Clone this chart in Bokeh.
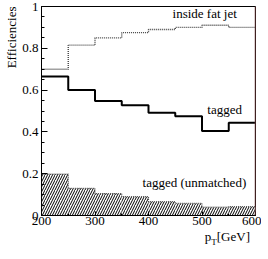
from bokeh.plotting import figure
from bokeh.models import Label, Span, FixedTicker, Title, Div
from bokeh.layouts import column
from bokeh.embed import file_html
from bokeh.resources import INLINE

# bin edges (GeV)
edges = [200, 250, 300, 350, 400, 450, 500, 550, 600]
# efficiencies per bin
inside_fat_jet = [0.70, 0.815, 0.85, 0.875, 0.89, 0.90, 0.91, 0.90]
tagged = [0.665, 0.60, 0.548, 0.528, 0.492, 0.475, 0.404, 0.444]
tagged_unmatched = [0.198, 0.13, 0.105, 0.09, 0.066, 0.058, 0.04, 0.042]

x_ticks = [200, 300, 400, 500, 600]
y_ticks = [0, 0.2, 0.4, 0.6, 0.8, 1]
y_tick_labels = {0: "0", 0.2: "0.2", 0.4: "0.4", 0.6: "0.6", 0.8: "0.8", 1: "1"}

FONT = "Liberation Serif"

p = figure(frame_width=214, frame_height=209, x_range=(200, 600), y_range=(0, 1),
           output_backend="svg", toolbar_location=None,
           min_border_left=32, min_border_right=6, min_border_top=6, min_border_bottom=15)
p.xgrid.visible = False
p.ygrid.visible = False
p.outline_line_color = "black"
p.outline_line_width = 1

# hatched area: tagged (unmatched)
p.quad(left=edges[:-1], right=edges[1:], bottom=0, top=tagged_unmatched,
       fill_color="white", line_color=None, hatch_pattern="/", hatch_color="black",
       hatch_scale=5, hatch_weight=1.0)
p.step(x=edges, y=tagged_unmatched + [tagged_unmatched[-1]], mode="after",
       line_color="#555555", line_width=1.2, line_dash="1 1")

# inside fat jet (dotted)
p.step(x=edges, y=inside_fat_jet + [inside_fat_jet[-1]], mode="after",
       line_color="#444444", line_width=1.4, line_dash="1 1")

# tagged (solid)
p.step(x=edges, y=tagged + [tagged[-1]], mode="after",
       line_color="black", line_width=2)

p.add_layout(Span(location=600, dimension="height", line_color="#7a4040", line_width=1.5))

for ax in (p.xaxis[0], p.yaxis[0]):
    ax.major_label_text_font = FONT
    ax.major_label_text_font_size = "13px"
    ax.major_label_text_color = "black"
    ax.major_tick_out = 0
    ax.minor_tick_out = 0
    ax.axis_line_color = "black"
    ax.major_tick_line_color = "black"
    ax.minor_tick_line_color = "black"

p.yaxis[0].ticker = FixedTicker(ticks=y_ticks,
                                minor_ticks=[i * 0.05 for i in range(21)])
p.yaxis[0].major_label_overrides = y_tick_labels
p.yaxis[0].major_tick_in = 6
p.yaxis[0].minor_tick_in = 3
p.yaxis[0].major_label_standoff = 3

p.xaxis[0].ticker = FixedTicker(ticks=x_ticks, minor_ticks=edges)
p.xaxis[0].major_tick_in = 4
p.xaxis[0].minor_tick_in = 2
p.xaxis[0].major_label_standoff = 1

# y axis title, top-aligned
p.add_layout(Title(text="Efficiencies", align="right", text_font=FONT,
                   text_font_size="13px", text_font_style="normal",
                   text_color="black", standoff=2, offset=0), "left")

def lab(text, x, y, **kw):
    d = dict(text_font=FONT, text_font_size="13px", text_color="black")
    d.update(kw)
    p.add_layout(Label(x=x, y=y, text=text, **d))

lab("inside fat jet", 505, 0.93, text_align="center")
lab("tagged", 510, 0.471)
lab("tagged (unmatched)", 389, 0.121)

# x axis title p_T[GeV]
xlabel = Div(text="p<sub style='font-size:9px'>T</sub>[GeV]", width=252, height=13,
             margin=0,
             styles={"text-align": "right", "font-family": "'Liberation Serif', serif",
                     "font-size": "13px", "line-height": "13px", "padding-right": "2px",
                     "box-sizing": "border-box", "color": "black"})

layout = column(p, xlabel, spacing=0)
open("out.html", "w").write(file_html(layout, INLINE))
